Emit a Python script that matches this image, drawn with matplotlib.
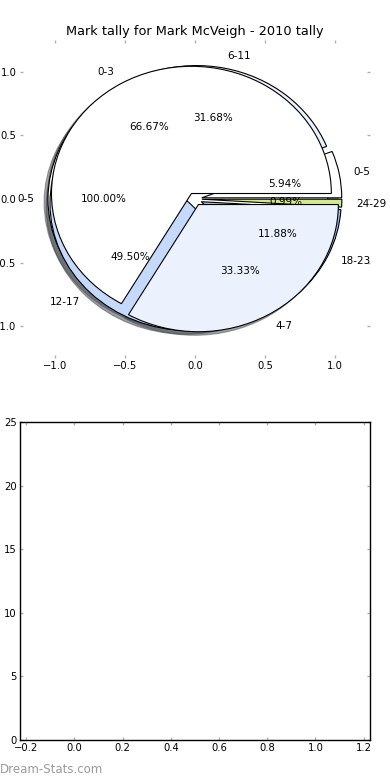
import matplotlib
matplotlib.use('Agg')
import matplotlib.pyplot as plt
import numpy as np

title = "Mark tally for Mark McVeigh - 2010 tally"

# three tallies drawn on top of each other, bottom one first
bands_full = ["0-5"]
counts_full = [1]

bands_six = ["0-5", "6-11", "12-17", "18-23", "24-29"]
counts_six = [6, 32, 50, 12, 1]

bands_four = ["0-3", "4-7"]
counts_four = [2, 1]

colors = ["white", "#ebf2fd", "#c5d9fb", "#9dbcf0", "#d3e88f"]

x_ticks = [-1.0, -0.5, 0.0, 0.5, 1.0]
y_ticks = [-1.0, -0.5, 0.0, 0.5, 1.0]
bar_xticks = [-0.2, 0.0, 0.2, 0.4, 0.6, 0.8, 1.0, 1.2]
bar_yticks = [0, 5, 10, 15, 20, 25]

plt.rcParams.update({"font.family": "DejaVu Sans", "font.size": 7.5})

fig = plt.figure(figsize=(3.9, 7.8), dpi=100)
fig.patch.set_facecolor("white")

ax1 = fig.add_axes([0.0513, 0.541, 0.897, 0.4077])
for bands, counts in [(bands_full, counts_full), (bands_six, counts_six), (bands_four, counts_four)]:
    ax1.pie(counts, labels=bands, colors=colors[:len(counts)], explode=[0.05] * len(counts),
            autopct="%1.2f%%", shadow=True, startangle=0,
            wedgeprops={"edgecolor": "black", "linewidth": 0.8},
            textprops={"fontsize": 7.5})
ax1.set_aspect("auto")
ax1.set_frame_on(False)
ax1.set_xlim(-1.25, 1.25)
ax1.set_ylim(-1.25, 1.25)
ax1.set_xticks(x_ticks)
ax1.set_yticks(y_ticks)
ax1.set_title(title, fontsize=9.3, pad=3.5)

ax2 = fig.add_axes([0.0513, 0.0513, 0.897, 0.4077])
ax2.set_xlim(-0.226, 1.226)
ax2.set_ylim(0, 25)
ax2.set_xticks(bar_xticks)
ax2.set_yticks(bar_yticks)
for s in ax2.spines.values():
    s.set_linewidth(1.0)
    s.set_color("black")

for ax in (ax1, ax2):
    ax.tick_params(direction="in", length=2.5, width=1, color="#b0b0b0",
                   top=True, right=True, labelsize=7.2, pad=2.5)

fig.text(0.0, 0.013, "Dream-Stats.com", fontsize=8.5, fontweight="normal",
         color="#9a9a9a", ha="left", va="center")

fig.savefig("out.png", dpi=100, facecolor="white")
